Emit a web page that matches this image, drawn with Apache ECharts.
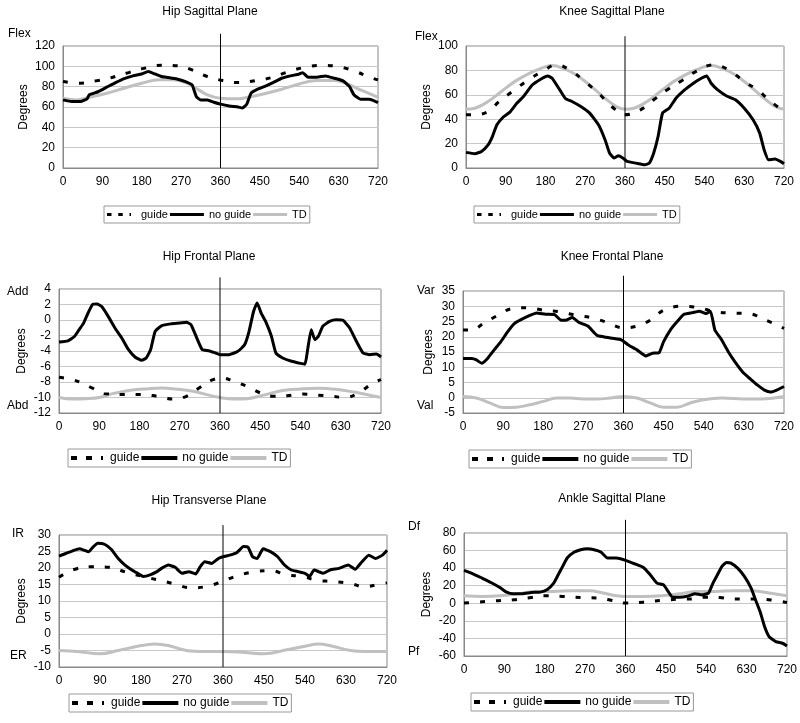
<!DOCTYPE html>
<html>
<head>
<meta charset="utf-8">
<script src="https://cdn.jsdelivr.net/npm/echarts@6/dist/echarts.min.js"></script>
<style>html,body{margin:0;padding:0;background:#fff}#c{width:800px;height:723px}</style>
</head>
<body>
<div id="c"></div>
<script>
const seriesNames = ['guide', 'no guide', 'TD'];
const panelTitles = ['Hip Sagittal Plane', 'Knee Sagittal Plane', 'Hip Frontal Plane', 'Knee Frontal Plane', 'Hip Transverse Plane', 'Ankle Sagittal Plane'];
const topSideLabels = ['Flex', 'Flex', 'Add', 'Var', 'IR', 'Df'];
const bottomSideLabels = ['', '', 'Abd', 'Val', 'ER', 'Pf'];
const yRanges = [[0, 120, 20], [0, 100, 20], [-12, 4, 2], [-5, 35, 5], [-10, 30, 5], [-60, 80, 20]];
const dividerAt = 360;
const dividerTops = [132, 108, 5.5, 40, 33, 95];

const hipSagittalGuide = [[0,85],[40,83.4],[75,85.7],[105,88.3],[150,93.8],[185,98],[225,101],[265,100.4],[295,96.5],[330,90],[365,86],[400,84],[440,86],[480,89.3],[510,94],[550,98.8],[590,101],[630,99.7],[670,94.8],[700,89.3],[720,86.7]];
const hipSagittalNoGuide = [[0,67],[20,65.4],[40,65.4],[55,68],[60,72],[80,75],[100,79.5],[120,84],[140,88],[160,90.6],[180,92.5],[195,94.8],[210,92.5],[225,90],[240,89],[260,87.6],[280,85],[295,81.7],[305,70],[315,67],[330,67],[345,64.7],[360,62.8],[380,61],[400,60],[410,59],[420,62.8],[430,73.6],[445,77.5],[460,80],[480,84],[500,88.3],[520,90.6],[540,92.5],[548,93.8],[560,89.3],[580,89.3],[600,90.6],[620,88.3],[640,85.7],[655,80],[665,72],[680,67.7],[700,67.7],[720,64.4]];
const hipSagittalTD = [[0,68.7],[30,67],[60,69.6],[100,73.6],[140,78.5],[180,83.4],[220,86.7],[250,86.7],[280,84],[300,79.5],[330,72],[360,68.7],[400,68],[420,69.3],[460,73],[500,77.5],[540,82.7],[580,86],[620,86],[650,82.7],[680,76.8],[720,69.6]];

const kneeSagittalGuide = [[0,43.6],[20,43.6],[50,46.3],[75,54.5],[105,62.7],[140,72],[175,79.6],[205,84.5],[235,80.4],[265,72],[300,61.3],[330,50.4],[360,43.6],[395,47.7],[425,55.9],[455,64],[490,72],[520,79],[560,84.5],[595,80.4],[630,70.8],[660,64],[690,54.5],[720,46.3]];
const kneeSagittalNoGuide = [[0,12.8],[20,11.7],[35,13.6],[50,19],[60,26],[70,35.4],[85,42],[100,46],[115,53],[130,58.6],[150,68],[170,73],[185,75.5],[195,73.6],[210,65.4],[225,57],[240,54.5],[260,50.4],[280,45],[300,35.4],[315,23],[325,12.3],[335,8.2],[345,10],[355,8.2],[365,5.4],[385,4],[405,2.7],[415,4],[425,12.3],[435,26],[445,45],[460,49],[475,57],[495,64],[515,69.5],[530,73],[545,75.5],[555,69.5],[570,64],[590,59],[610,55.9],[630,49],[650,39.5],[665,28.6],[675,15],[685,6.8],[700,7.4],[712,5.4],[720,3.5]];
const kneeSagittalTD = [[0,48.2],[20,49],[50,54.5],[80,62.7],[110,70.8],[140,77],[170,81.7],[195,84],[220,81.7],[250,76.3],[280,68],[310,58.6],[340,50.4],[360,48.2],[380,49],[410,54.5],[440,62.7],[470,70.8],[500,77],[530,81.7],[555,84],[580,81.7],[610,76.3],[640,68],[670,58.6],[700,50.4],[720,48.2]];

const hipFrontalGuide = [[0,-7.4],[30,-7.7],[50,-8.1],[75,-8.8],[100,-9.5],[140,-9.6],[180,-9.6],[220,-9.85],[255,-10.2],[285,-9.85],[310,-8.9],[340,-7.8],[365,-7.5],[390,-7.9],[420,-8.56],[450,-9.4],[480,-9.85],[510,-9.76],[545,-9.55],[580,-9.7],[610,-9.85],[640,-10],[670,-9.4],[700,-8.2],[720,-7.7]];
const hipFrontalNoGuide = [[0,-2.85],[20,-2.7],[35,-2.1],[45,-1.25],[55,-0.4],[65,0.9],[75,2],[85,2.06],[95,1.76],[110,0.47],[125,-1.03],[140,-2.3],[155,-3.8],[170,-4.77],[185,-5.2],[195,-4.9],[205,-3.8],[215,-1.46],[230,-0.73],[250,-0.5],[270,-0.4],[285,-0.3],[295,-0.6],[305,-1.9],[320,-3.8],[335,-3.96],[350,-4.26],[360,-4.47],[380,-4.47],[400,-4.04],[415,-3.2],[425,-1.46],[435,1.1],[443,2.2],[452,0.9],[462,-0.17],[475,-2.1],[485,-4.26],[500,-4.9],[520,-5.33],[540,-5.6],[550,-5.7],[556,-3.8],[564,-1.25],[572,-2.54],[580,-2.1],[590,-0.8],[605,-0.17],[620,0.04],[635,-0.04],[650,-1.03],[665,-2.75],[680,-4.26],[695,-4.47],[710,-4.4],[720,-4.77]];
const hipFrontalTD = [[0,-10],[30,-10.2],[60,-10.15],[90,-10],[120,-9.5],[160,-9.07],[200,-8.86],[230,-8.77],[260,-8.9],[300,-9.2],[330,-9.63],[360,-10],[390,-10.2],[420,-10.15],[450,-9.8],[500,-9.1],[540,-8.9],[580,-8.8],[620,-8.95],[660,-9.3],[690,-9.65],[720,-10]];

const kneeFrontalGuide = [[0,22.2],[20,22.2],[45,24.3],[75,26.8],[110,29.2],[145,29.5],[180,28.7],[215,28.2],[255,27],[290,26.2],[325,24.6],[360,22.9],[390,23.5],[420,25.4],[450,28.7],[490,30],[530,29.5],[565,28.2],[600,27.8],[640,27.6],[680,25.4],[720,22.7]];
const kneeFrontalNoGuide = [[0,12.9],[20,12.9],[30,12.4],[42,11.3],[55,12.9],[70,15.7],[85,18.4],[100,21.6],[115,24.3],[130,25.6],[150,27],[165,27.8],[185,27.4],[205,27.3],[220,25.4],[230,25.4],[245,26.3],[260,24.7],[280,23.5],[300,20.5],[315,20],[335,19.5],[355,19],[370,17.4],[390,15.7],[410,13.7],[425,14.6],[440,14.8],[450,18.4],[465,22.2],[480,24.9],[495,27.3],[515,27.9],[530,28.4],[545,27.6],[555,28.4],[565,22.2],[580,19],[595,15.1],[610,11.8],[630,8],[645,6.1],[660,4.2],[675,2.6],[690,1.85],[705,2.6],[720,3.7]];
const kneeFrontalTD = [[0,0.4],[30,-0.1],[60,-1.7],[90,-3.2],[120,-3.1],[150,-2.3],[180,-1.2],[210,-0.1],[240,-0.1],[270,-0.4],[300,-0.4],[330,-0.1],[360,0.4],[390,-0.1],[420,-1.7],[450,-3.1],[480,-3.1],[510,-1.7],[540,-0.65],[580,-0.1],[630,-0.4],[680,-0.3],[720,0.4]];

const hipTransverseGuide = [[0,17.2],[30,19.4],[70,20.4],[110,20.2],[150,18.6],[185,17.4],[220,16.3],[250,15.3],[290,14],[320,14.3],[360,16],[390,17.6],[430,18.9],[465,19.2],[500,17.9],[535,17.4],[565,16.3],[600,15.9],[640,15.3],[670,14.3],[700,15],[720,15.5]];
const hipTransverseNoGuide = [[0,23.6],[15,24.4],[30,25.2],[45,25.8],[55,25.4],[65,24.9],[75,26.4],[85,27.5],[100,27.2],[115,25.6],[130,22.9],[145,20.9],[160,19.4],[175,18.2],[185,17.4],[200,17.9],[215,18.9],[225,19.9],[240,20.9],[255,20.2],[270,18.4],[285,18.9],[300,18.2],[310,20.4],[320,21.9],[335,21.4],[350,22.9],[360,23.4],[375,23.9],[390,24.6],[405,26.5],[415,26.3],[425,23.4],[435,22.9],[448,25.8],[465,24.9],[480,23.4],[495,20.9],[510,19.4],[525,18.9],[540,18.4],[550,17.4],[560,19.4],[570,18.9],[580,18.4],[595,19.4],[615,19.9],[635,20.9],[650,19.6],[665,21.9],[680,23.9],[695,22.9],[710,23.9],[720,25.4]];
const hipTransverseTD = [[0,-5],[40,-5.3],[90,-6],[130,-5],[170,-3.8],[210,-3],[240,-3.5],[280,-5],[320,-5.3],[360,-5.3],[400,-5.5],[450,-6],[500,-4.8],[540,-3.7],[570,-3],[600,-3.7],[640,-5],[680,-5.3],[720,-5.3]];

const ankleSagittalGuide = [[0,0.2],[30,1.3],[70,2.8],[110,4],[150,6.6],[180,8.5],[220,7.8],[260,6.6],[300,5.9],[330,3.2],[360,0.2],[400,1.3],[440,3.2],[480,4.7],[510,5],[540,7],[570,6.6],[600,5],[640,5],[680,4],[720,0.9]];
const ankleSagittalNoGuide = [[0,37.4],[20,33.6],[40,28.7],[60,23.7],[80,18],[95,12.7],[110,10.8],[130,10.8],[150,12.3],[170,12.7],[185,15.4],[200,23],[210,32.5],[220,42],[230,51.5],[245,58],[260,61],[275,62],[290,61],[305,58.3],[320,51.5],[340,51.5],[360,48.8],[380,45],[400,40.8],[415,32.5],[430,23],[445,21],[455,13.5],[465,6.8],[480,6.8],[500,8.3],[515,10.8],[530,9.6],[545,11.6],[555,23],[565,32.5],[575,42],[585,46.5],[595,45.8],[610,40],[625,30.6],[640,17.3],[650,3.8],[660,-9.4],[670,-26.5],[680,-37.9],[695,-43.6],[710,-45.5],[720,-48.5]];
const ankleSagittalTD = [[0,8.5],[40,7.8],[80,8.5],[120,10.8],[160,13.5],[200,13.5],[240,14.2],[280,14.2],[310,11.6],[340,8.5],[360,7.8],[400,7.8],[440,8.5],[480,10.8],[520,13.5],[560,13.5],[600,14.2],[640,14.2],[680,11.6],[720,8.5]];

const panelData = [
  [hipSagittalGuide, hipSagittalNoGuide, hipSagittalTD],
  [kneeSagittalGuide, kneeSagittalNoGuide, kneeSagittalTD],
  [hipFrontalGuide, hipFrontalNoGuide, hipFrontalTD],
  [kneeFrontalGuide, kneeFrontalNoGuide, kneeFrontalTD],
  [hipTransverseGuide, hipTransverseNoGuide, hipTransverseTD],
  [ankleSagittalGuide, ankleSagittalNoGuide, ankleSagittalTD]
];

// ---- layout (pixels) ----
const layout = [
  {grid:[63,46,315,122],  title:[210,6],   legend:[104,206,11,34,3], name:33, side:[[8,35],null]},
  {grid:[466,46,318,122], title:[612,6],   legend:[474,206,11,34,3], name:33, side:[[415,38],null]},
  {grid:[59,289,322,124], title:[209,251], legend:[68,449,12,36,4],  name:31, side:[[7,293],[7,407]]},
  {grid:[463,291,321,122],title:[612,251], legend:[469,450,12,36,4], name:28, side:[[417,292],[417,407]]},
  {grid:[59,535,328,132], title:[209,495], legend:[69,694,12,36,4],  name:31, side:[[12,535],[10,657]]},
  {grid:[464,533,324,123],title:[612,493], legend:[471,693,12,36,4], name:31, side:[[408,528],[408,653]]}
];

const FONT = '"Liberation Sans", Arial, sans-serif';
const styles = [
  {color:'#000', lineStyle:{color:'#000', width:3, type:[5,11]}, smooth:0.4, z:3},
  {color:'#000', lineStyle:{color:'#000', width:3}, smooth:0.15, z:4},
  {color:'#c0c0c0', lineStyle:{color:'#c0c0c0', width:3}, smooth:0.4, z:2}
];
const dashIcon = 'path://M0,0h6v4h-6zM15,0h6v4h-6zM30,0h2v4h-2z';

const option = {
  animation:false,
  backgroundColor:'#fff',
  textStyle:{fontFamily:FONT},
  title:[], grid:[], xAxis:[], yAxis:[], legend:[], series:[], graphic:[]
};

panelTitles.forEach((t, i) => {
  const L = layout[i];
  option.title.push({text:t, left:L.title[0], top:L.title[1], textAlign:'center', padding:0,
    textStyle:{fontFamily:FONT, fontSize:12, fontWeight:'normal', color:'#000'}});
  option.grid.push({left:L.grid[0], top:L.grid[1], width:L.grid[2], height:L.grid[3],
    show:true, borderColor:'#888', borderWidth:1, backgroundColor:'#fff'});
  option.xAxis.push({gridIndex:i, type:'value', min:0, max:720, interval:90,
    axisLine:{show:true, onZero:false, lineStyle:{color:'#888'}}, axisTick:{show:false}, splitLine:{show:false},
    axisLabel:{color:'#000', fontSize:12, fontFamily:FONT, margin:8}});
  const yr = yRanges[i];
  option.yAxis.push({gridIndex:i, type:'value', min:yr[0], max:yr[1], interval:yr[2],
    name:'Degrees', nameLocation:'middle', nameRotate:90, nameGap:L.name,
    nameTextStyle:{color:'#000', fontSize:12, fontFamily:FONT},
    axisLine:{show:true, onZero:false, lineStyle:{color:'#888'}}, axisTick:{show:false},
    splitLine:{show:true, lineStyle:{color:'#c8c8c8', width:1}},
    axisLabel:{color:'#000', fontSize:12, fontFamily:FONT, margin:8}});
  option.legend.push({left:L.legend[0], top:L.legend[1], orient:'horizontal',
    borderColor:'#999', borderWidth:1, padding:[3,3], itemGap:2, itemWidth:L.legend[3], itemHeight:L.legend[4],
    textStyle:{color:'#000', fontSize:L.legend[2], fontFamily:FONT},
    data:[{name:seriesNames[0], icon:dashIcon},{name:seriesNames[1], icon:'rect'},{name:seriesNames[2], icon:'rect'}]});
  [2,0,1].forEach(k => {
    option.series.push(Object.assign({
      type:'line', name:seriesNames[k], xAxisIndex:i, yAxisIndex:i,
      data:panelData[i][k], symbol:'none', showSymbol:false
    }, styles[k]));
  });
  option.series.push({type:'line', name:'divider', xAxisIndex:i, yAxisIndex:i, clip:false,
    data:[[dividerAt, yr[0]],[dividerAt, dividerTops[i]]], symbol:'none', silent:true, z:10,
    lineStyle:{color:'#000', width:1}});
  const sides = [topSideLabels[i], bottomSideLabels[i]];
  sides.forEach((s, j) => {
    if (!s || !L.side[j]) return;
    option.graphic.push({type:'text', left:L.side[j][0], top:L.side[j][1]-7,
      style:{text:s, fill:'#000', font:'12px ' + FONT}});
  });
});

const chart = echarts.init(document.getElementById('c'), null, {renderer:'canvas'});
chart.setOption(option);
</script>
</body>
</html>
